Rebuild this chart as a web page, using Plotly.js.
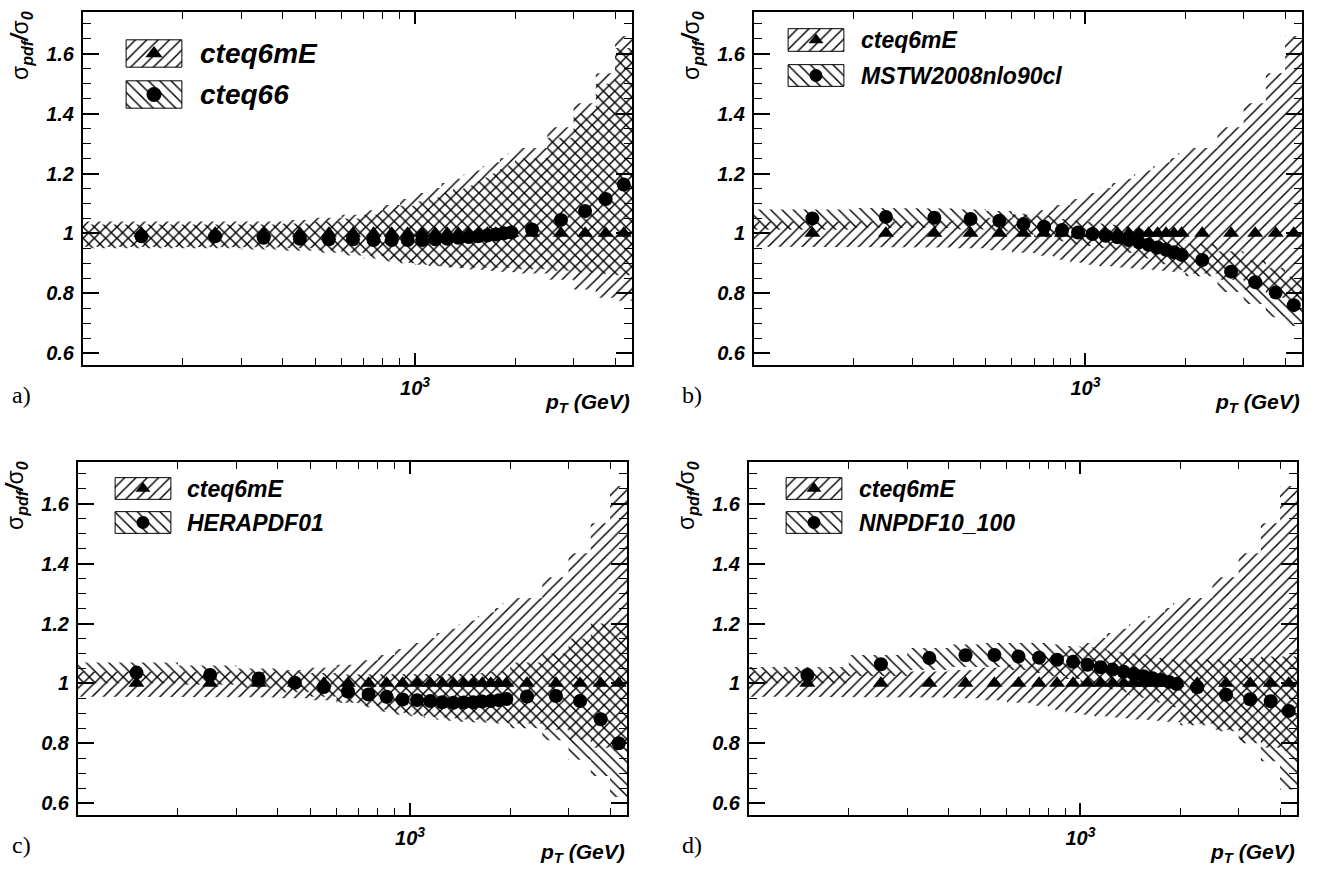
<!DOCTYPE html>
<html><head><meta charset="utf-8">
<script src="https://cdn.plot.ly/plotly-3.0.1.min.js"></script>
<style>html,body{margin:0;padding:0;background:#fff}#chart{width:1317px;height:893px}</style>
</head><body><div id="chart"></div>
<script>
// ---------------- data ----------------
const binEdges = [100,200,300,400,500,600,700,800,900,1000,1100,1200,1300,1400,1500,1600,1700,1800,1900,2000,2500,3000,3500,4000,4500];
const binCenters = [150,250,350,450,550,650,750,850,950,1050,1150,1250,1350,1450,1550,1650,1750,1850,1950,2250,2750,3250,3750,4250];

const cteq6mE     = [1,1,1,1,1,1,1,1,1,1,1,1,1,1,1,1,1,1,1,1,1,1,1,1];
const cteq6mEUp   = [1.04,1.04,1.04,1.045,1.052,1.062,1.077,1.095,1.115,1.135,1.152,1.168,1.183,1.197,1.21,1.224,1.238,1.252,1.268,1.285,1.355,1.435,1.535,1.66];
const cteq6mEDown = [0.955,0.955,0.953,0.95,0.944,0.935,0.925,0.912,0.902,0.895,0.89,0.886,0.883,0.88,0.878,0.876,0.874,0.872,0.87,0.866,0.845,0.812,0.785,0.775];

const cteq66      = [0.99,0.99,0.985,0.982,0.98,0.98,0.978,0.978,0.978,0.978,0.98,0.982,0.985,0.988,0.99,0.993,0.996,1.0,1.003,1.013,1.045,1.075,1.115,1.163];
const cteq66Up    = [1.03,1.03,1.03,1.033,1.04,1.05,1.062,1.077,1.092,1.107,1.12,1.135,1.148,1.16,1.173,1.187,1.2,1.214,1.228,1.25,1.32,1.4,1.5,1.62];
const cteq66Down  = [0.95,0.95,0.946,0.942,0.935,0.926,0.916,0.906,0.9,0.895,0.891,0.888,0.886,0.885,0.884,0.884,0.884,0.884,0.885,0.88,0.875,0.87,0.865,0.86];

const mstw        = [1.05,1.055,1.052,1.048,1.042,1.031,1.022,1.011,1.003,0.998,0.992,0.987,0.978,0.97,0.962,0.953,0.945,0.937,0.928,0.911,0.872,0.837,0.802,0.76];
const mstwUp      = [1.08,1.085,1.083,1.08,1.075,1.066,1.058,1.048,1.042,1.038,1.033,1.029,1.022,1.015,1.008,1.0,0.993,0.986,0.978,0.965,0.94,0.91,0.885,0.855];
const mstwDown    = [1.012,1.02,1.018,1.013,1.006,0.996,0.986,0.974,0.964,0.958,0.951,0.945,0.934,0.925,0.916,0.906,0.897,0.888,0.878,0.857,0.804,0.764,0.72,0.69];

const hera        = [1.036,1.028,1.016,1.002,0.988,0.973,0.963,0.955,0.946,0.944,0.941,0.937,0.935,0.936,0.937,0.939,0.941,0.944,0.948,0.956,0.958,0.941,0.88,0.8];
const heraUp      = [1.07,1.06,1.05,1.04,1.035,1.03,1.03,1.03,1.03,1.03,1.03,1.03,1.03,1.03,1.032,1.035,1.038,1.04,1.045,1.07,1.1,1.15,1.2,1.19];
const heraDown    = [1.0,0.995,0.985,0.97,0.955,0.935,0.92,0.905,0.895,0.89,0.885,0.878,0.875,0.872,0.87,0.87,0.868,0.866,0.865,0.85,0.81,0.745,0.69,0.62];

const nnpdf       = [1.028,1.064,1.085,1.094,1.095,1.09,1.086,1.079,1.072,1.062,1.054,1.046,1.039,1.031,1.024,1.017,1.011,1.005,0.998,0.987,0.962,0.947,0.94,0.908];
const nnpdfUp     = [1.055,1.095,1.118,1.13,1.135,1.135,1.135,1.13,1.125,1.12,1.115,1.11,1.105,1.1,1.095,1.09,1.085,1.08,1.08,1.08,1.08,1.085,1.09,1.09];
const nnpdfDown   = [1.0,1.025,1.045,1.055,1.055,1.045,1.035,1.025,1.015,1.0,0.99,0.98,0.97,0.96,0.952,0.943,0.936,0.93,0.92,0.86,0.84,0.8,0.74,0.645];

const xMajorTicks = [1000];
const xMajorLabels = ['10<sup>3</sup>'];
const xMinorTicks = [200,300,400,500,600,700,800,900,2000,3000,4000];
const yMajorTicks = [0.6,0.8,1,1.2,1.4,1.6];
const yMajorLabels = ['0.6','0.8','1','1.2','1.4','1.6'];
const yMinorTicks = [0.65,0.7,0.75,0.85,0.9,0.95,1.05,1.1,1.15,1.25,1.3,1.35,1.45,1.5,1.55,1.65,1.7];

const refName = 'cteq6mE';
const panelNames = ['cteq66','MSTW2008nlo90cl','HERAPDF01','NNPDF10_100'];
const panelLabels = ['a)','b)','c)','d)'];

// ---------------- layout helpers ----------------
const W = 1317, H = 893;
const fx = p => p / W;
const fy = p => 1 - p / H;

const panels = [
  {c: cteq66, up: cteq66Up, dn: cteq66Down, x0: 83,  x1: 632,  y0: 12,  y1: 365, big: true,
   box: [125,183], boxY: [[39,68],[80,109]], textX: 198},
  {c: mstw,   up: mstwUp,   dn: mstwDown,   x0: 754, x1: 1302, y0: 12,  y1: 365, big: false,
   box: [787,845], boxY: [[28,52],[64,87]], textX: 859},
  {c: hera,   up: heraUp,   dn: heraDown,   x0: 78,  x1: 627,  y0: 462, y1: 815, big: false,
   box: [114,172], boxY: [[477,500],[511,534]], textX: 185},
  {c: nnpdf,  up: nnpdfUp,  dn: nnpdfDown,  x0: 749, x1: 1297, y0: 462, y1: 815, big: false,
   box: [785,843], boxY: [[477,500],[511,534]], textX: 857}
];

function bandXY(up, dn) {
  const xs = [], ys = [];
  for (let i = 0; i < up.length; i++) { xs.push(binEdges[i], binEdges[i+1]); ys.push(up[i], up[i]); }
  for (let i = dn.length - 1; i >= 0; i--) { xs.push(binEdges[i+1], binEdges[i]); ys.push(dn[i], dn[i]); }
  xs.push(xs[0]); ys.push(ys[0]);
  return {xs, ys};
}

const pat = shape => ({shape: shape, fgcolor: '#000', bgcolor: 'rgba(0,0,0,0)', size: 8, solidity: 0.18, fillmode: 'replace'});
const tickFont = {family: 'Liberation Sans', size: 20, weight: 'bold', style: 'italic', color: '#000'};

const traces = [];
const layout = {
  width: W, height: H, autosize: false,
  margin: {l: 0, r: 0, t: 0, b: 0},
  paper_bgcolor: '#fff', plot_bgcolor: '#fff',
  showlegend: false,
  font: {family: 'Liberation Sans', color: '#000'},
  annotations: []
};

panels.forEach((p, k) => {
  const n = k + 1;
  const xa = n === 1 ? 'x' : 'x' + n;
  const ya = n === 1 ? 'y' : 'y' + n;
  const xKey = n === 1 ? 'xaxis' : 'xaxis' + n;
  const yKey = n === 1 ? 'yaxis' : 'yaxis' + n;

  layout[xKey] = {
    type: 'log', range: [2, Math.log10(4500)], domain: [fx(p.x0), fx(p.x1)], anchor: ya,
    showline: true, linecolor: '#000', linewidth: 2, mirror: 'ticks',
    ticks: 'inside', ticklen: 12, tickwidth: 2, tickcolor: '#000',
    tickmode: 'array', tickvals: xMajorTicks, ticktext: xMajorLabels, tickfont: tickFont,
    ticklabelstandoff: 4,
    minor: {tickmode: 'array', tickvals: xMinorTicks, ticks: 'inside', ticklen: 7, tickwidth: 1, tickcolor: '#000', showgrid: false},
    showgrid: false, zeroline: false, fixedrange: true
  };
  layout[yKey] = {
    range: [0.56, 1.74], domain: [fy(p.y1), fy(p.y0)], anchor: xa,
    showline: true, linecolor: '#000', linewidth: 2, mirror: 'ticks',
    ticks: 'inside', ticklen: 16, tickwidth: 2, tickcolor: '#000',
    tickmode: 'array', tickvals: yMajorTicks, ticktext: yMajorLabels, tickfont: tickFont,
    ticklabelstandoff: 3,
    minor: {tickmode: 'array', tickvals: yMinorTicks, ticks: 'inside', ticklen: 8, tickwidth: 1, tickcolor: '#000', showgrid: false},
    showgrid: false, zeroline: false, fixedrange: true
  };

  const b1 = bandXY(cteq6mEUp, cteq6mEDown);
  traces.push({type: 'scatter', mode: 'lines', x: b1.xs, y: b1.ys, xaxis: xa, yaxis: ya,
    fill: 'toself', fillcolor: 'rgba(0,0,0,0)', fillpattern: pat('/'),
    line: {width: 0, color: 'rgba(0,0,0,0)'}, hoverinfo: 'skip'});
  const b2 = bandXY(p.up, p.dn);
  traces.push({type: 'scatter', mode: 'lines', x: b2.xs, y: b2.ys, xaxis: xa, yaxis: ya,
    fill: 'toself', fillcolor: 'rgba(0,0,0,0)', fillpattern: pat('\\'),
    line: {width: 0, color: 'rgba(0,0,0,0)'}, hoverinfo: 'skip'});
  traces.push({type: 'scatter', mode: 'markers', x: binCenters, y: cteq6mE, xaxis: xa, yaxis: ya,
    marker: {symbol: 'triangle-up', size: 14, color: '#000'}, hoverinfo: 'skip'});
  traces.push({type: 'scatter', mode: 'markers', x: binCenters, y: p.c, xaxis: xa, yaxis: ya,
    marker: {symbol: 'circle', size: 14, color: '#000'}, hoverinfo: 'skip'});

  // legend boxes (overlay axes)
  const names = [refName, panelNames[k]];
  const shapesP = ['/', '\\'];
  const syms = ['triangle-up', 'circle'];
  for (let j = 0; j < 2; j++) {
    const m = 5 + k * 2 + j;
    const lx = 'x' + m, ly = 'y' + m;
    layout['xaxis' + m] = {domain: [fx(p.box[0]), fx(p.box[1])], range: [-0.02, 1.02], visible: false, fixedrange: true, anchor: ly};
    layout['yaxis' + m] = {domain: [fy(p.boxY[j][1]), fy(p.boxY[j][0])], range: [-0.03, 1.03], visible: false, fixedrange: true, anchor: lx};
    traces.push({type: 'scatter', mode: 'lines', x: [0,1,1,0,0], y: [0,0,1,1,0], xaxis: lx, yaxis: ly,
      fill: 'toself', fillcolor: 'rgba(0,0,0,0)', fillpattern: pat(shapesP[j]),
      line: {width: 1, color: '#000'}, hoverinfo: 'skip'});
    traces.push({type: 'scatter', mode: 'markers', x: [0.5], y: [0.5], xaxis: lx, yaxis: ly,
      marker: {symbol: syms[j], size: p.big ? 15 : 13, color: '#000'}, cliponaxis: false, hoverinfo: 'skip'});
    layout.annotations.push({
      xref: 'paper', yref: 'paper', x: fx(p.textX), y: fy((p.boxY[j][0] + p.boxY[j][1]) / 2),
      xanchor: 'left', yanchor: 'middle', showarrow: false, text: names[j],
      font: {family: 'Liberation Sans', size: p.big ? 28 : 23, weight: 'bold', style: 'italic', color: '#000'}
    });
  }

  // axis titles
  layout.annotations.push({
    xref: 'paper', yref: 'paper', x: fx(p.x0 - 62), y: fy(p.y0 + 34),
    xanchor: 'center', yanchor: 'middle', textangle: -90, showarrow: false,
    text: 'σ<sub><b><i>pdf</i></b></sub><b><i>/</i></b>σ<sub><b><i>0</i></b></sub>',
    font: {family: 'Liberation Sans', size: 23, color: '#000'}
  });
  layout.annotations.push({
    xref: 'paper', yref: 'paper', x: fx(p.x1), y: fy(p.y1 + 38),
    xanchor: 'right', yanchor: 'middle', showarrow: false,
    text: 'p<sub>T</sub> (GeV)',
    font: {family: 'Liberation Sans', size: 21, weight: 'bold', style: 'italic', color: '#000'}
  });
  layout.annotations.push({
    xref: 'paper', yref: 'paper', x: fx(k % 2 === 0 ? 10 : 680), y: fy(p.y1 + 30),
    xanchor: 'left', yanchor: 'middle', showarrow: false,
    text: panelLabels[k],
    font: {family: 'Liberation Serif', size: 24, color: '#000'}
  });
});

Plotly.newPlot('chart', traces, layout, {staticPlot: true, displayModeBar: false});
</script>
</body></html>
